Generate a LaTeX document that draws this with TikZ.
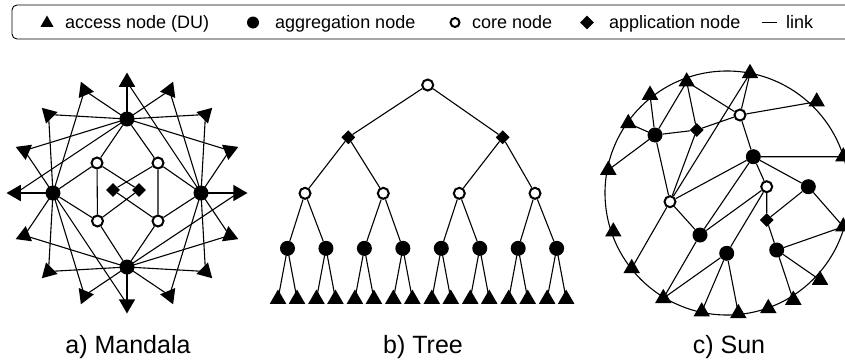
\documentclass[tikz,border=0pt]{standalone}
\usepackage{fontspec}
\setmainfont{Liberation Sans}
\usetikzlibrary{shapes.geometric}
\pgfdeclarelayer{bg}
\pgfsetlayers{bg,main}

\begin{document}
\begin{tikzpicture}[x=1pt,y=-1pt,
  agg/.style={circle,fill=black,minimum size=15pt,inner sep=0pt},
  core/.style={circle,draw=black,line width=2pt,fill=white,minimum size=11pt,inner sep=0pt},
  app/.style={diamond,fill=black,minimum size=14pt,inner sep=0pt},
  acc/.style={regular polygon,regular polygon sides=3,fill=black,minimum size=19pt,inner sep=0pt},
  linkline/.style={line width=1.1pt},
  lbl/.style={font=\fontsize{18}{20}\selectfont,anchor=base west,inner sep=0pt},
  captext/.style={font=\fontsize{25}{28}\selectfont,inner sep=0pt}]

\useasboundingbox (0,0) rectangle (845,362);
\clip (0,0) rectangle (845,362);

% ---------------- legend ----------------
\draw[line width=0.9pt,rounded corners=5pt] (12,5) rectangle (880,39);
\node[acc,minimum size=15pt] (lgA) at (47,23) {};
\node[lbl] (lgAt) at (65,28) {access node (DU)};
\node[agg,minimum size=12pt] (lgB) at (253,22.5) {};
\node[lbl] (lgBt) at (275,28) {aggregation node};
\node[core,minimum size=9pt,line width=2pt] (lgC) at (455,22.5) {};
\node[lbl] (lgCt) at (472,28) {core node};
\node[app,minimum size=14pt] (lgD) at (587,22.5) {};
\node[lbl] (lgDt) at (609,28) {application node};
\coordinate (lgE1) at (762,22.5);
\coordinate (lgE2) at (777,22.5);
\draw[line width=1pt] (lgE1) -- (lgE2);
\node[lbl] (lgEt) at (786,28) {link};

% ---------------- a) Mandala ----------------
% sixteen access nodes on the outer ring, pointing outwards
\foreach \j in {0,...,15}{
  \node[acc,regular polygon rotate={22.5*\j-90}] (mt\j)
    at ({127+111*cos(22.5*\j)},{193-111*sin(22.5*\j)}) {};
}
% four aggregation nodes (0 right, 1 top, 2 left, 3 bottom)
\foreach \i in {0,...,3}{
  \node[agg] (ma\i) at ({127+74*cos(90*\i)},{193-74*sin(90*\i)}) {};
}
\node[core] (mc1) at (97,163) {};
\node[core] (mc2) at (158,163) {};
\node[core] (mc3) at (97.5,221) {};
\node[core] (mc4) at (158,221) {};
\node[app] (md1) at (113,190) {};
\node[app] (md2) at (139,190) {};

\begin{pgfonlayer}{bg}
  % each aggregation node serves eight neighbouring access nodes
  \foreach \i in {0,...,3}{
    \foreach \d in {-3,...,4}{
      \pgfmathtruncatemacro\j{mod(4*\i+\d+16,16)}
      \draw[linkline] (ma\i.center) -- (mt\j.center);
    }
  }
  \draw[linkline] (ma1) -- (mc1) (ma1) -- (mc2)
              (ma2) -- (mc1) (ma2) -- (mc3)
              (ma0) -- (mc2) (ma0) -- (mc4)
              (ma3) -- (mc3) (ma3) -- (mc4)
              (mc1) -- (mc3) (mc2) -- (mc4)
              (mc1) -- (md2) (mc3) -- (md2)
              (mc2) -- (md1) (mc4) -- (md1);
\end{pgfonlayer}

% ---------------- b) Tree ----------------
\node[core] (tr) at (427.7,85) {};
\node[app] (td1) at (348.3,137.3) {};
\node[app] (td2) at (502.7,137.3) {};
\node[core] (tc1) at (305,193.3) {};
\node[core] (tc2) at (383.3,193.3) {};
\node[core] (tc3) at (459.3,193.3) {};
\node[core] (tc4) at (535,193.3) {};
\foreach \k in {1,...,8}{
  \node[agg] (ta\k) at ({287.5+38.45*(\k-1)},248.3) {};
  \pgfmathtruncatemacro\l{2*\k-1}
  \pgfmathtruncatemacro\r{2*\k}
  \node[acc] (tt\l) at ({287.5+38.45*(\k-1)-9.5},299) {};
  \node[acc] (tt\r) at ({287.5+38.45*(\k-1)+9.5},299) {};
}
\begin{pgfonlayer}{bg}
  \draw[linkline] (tr) -- (td1) (tr) -- (td2)
              (td1) -- (tc1) (td1) -- (tc2)
              (td2) -- (tc3) (td2) -- (tc4)
              (tc1) -- (ta1) (tc1) -- (ta2)
              (tc2) -- (ta3) (tc2) -- (ta4)
              (tc3) -- (ta5) (tc3) -- (ta6)
              (tc4) -- (ta7) (tc4) -- (ta8);
  \foreach \k in {1,...,8}{
    \pgfmathtruncatemacro\l{2*\k-1}
    \pgfmathtruncatemacro\r{2*\k}
    \draw[linkline] (ta\k.center) -- (tt\l.center) (ta\k.center) -- (tt\r.center);
  }
\end{pgfonlayer}

% ---------------- c) Sun ----------------
\coordinate (sc) at (727,193);
\node[acc] (s1) at (686.7,81.7) {};
\node[acc] (s2) at (750,73.3) {};
\node[acc] (s3) at (816.7,101.7) {};
\node[acc] (s4) at (650,95) {};
\node[acc] (s5) at (628.3,123.3) {};
\node[acc] (s6) at (608.3,170) {};
\node[acc] (s7) at (843.3,156.7) {};
\node[acc] (s8) at (613.3,231.7) {};
\node[acc] (s9) at (843.3,226.7) {};
\node[acc] (s10) at (631.7,268.3) {};
\node[acc] (s11) at (820,280) {};
\node[acc] (s12) at (663.3,298.3) {};
\node[acc] (s13) at (793.3,300) {};
\node[acc] (s14) at (701.7,311.7) {};
\node[acc] (s15) at (738.3,313.3) {};
\node[acc] (s16) at (768.3,308.3) {};
\node[agg] (a1) at (655,135) {};
\node[agg] (a2) at (753.3,156.7) {};
\node[agg] (a3) at (808.3,186.7) {};
\node[agg] (a4) at (700,235) {};
\node[agg] (a5) at (726.7,253.3) {};
\node[agg] (a6) at (776.7,250) {};
\node[core] (o1) at (740,115) {};
\node[core] (o2) at (766.7,186.7) {};
\node[core] (o3) at (670,201.7) {};
\node[app] (q1) at (696.7,130) {};
\node[app] (q2) at (766.7,220) {};
\begin{pgfonlayer}{bg}
  \draw[linkline] (sc) circle[radius=122];
  \draw[linkline] (s4.center) -- (a1) (s5.center) -- (a1) (s1.center) -- (a1) (s6.center) -- (a1)
              (a1) -- (q1) (s1.center) -- (q1) (s1.center) -- (o1) (q1) -- (o1)
              (s2.center) -- (o1) (s2.center) -- (o3) (o1) -- (s3.center) (o1) -- (a2)
              (a1) -- (o3) (o3) -- (q1) (o3) -- (a2) (o3) -- (s10.center) (o3) -- (a4)
              (a2) -- (s7.center) (a2) -- (o2) (a2) -- (a3) (a2) -- (a4)
              (o2) -- (a4) (o2) -- (a5) (o2) -- (q2)
              (q2) -- (a3) (q2) -- (a6) (a3) -- (s9.center)
              (a6) -- (s9.center) (a6) -- (s11.center) (a6) -- (s13.center)
              (a5) -- (s12.center) (a5) -- (s14.center) (a5) -- (s15.center)
              (a4) -- (s12.center);
\end{pgfonlayer}

% ---------------- captions ----------------
\node[captext] (capA) at (128,347) {a) Mandala};
\node[captext] (capB) at (423,347) {b) Tree};
\node[captext] (capC) at (729,347) {c) Sun};
\end{tikzpicture}
\end{document}
